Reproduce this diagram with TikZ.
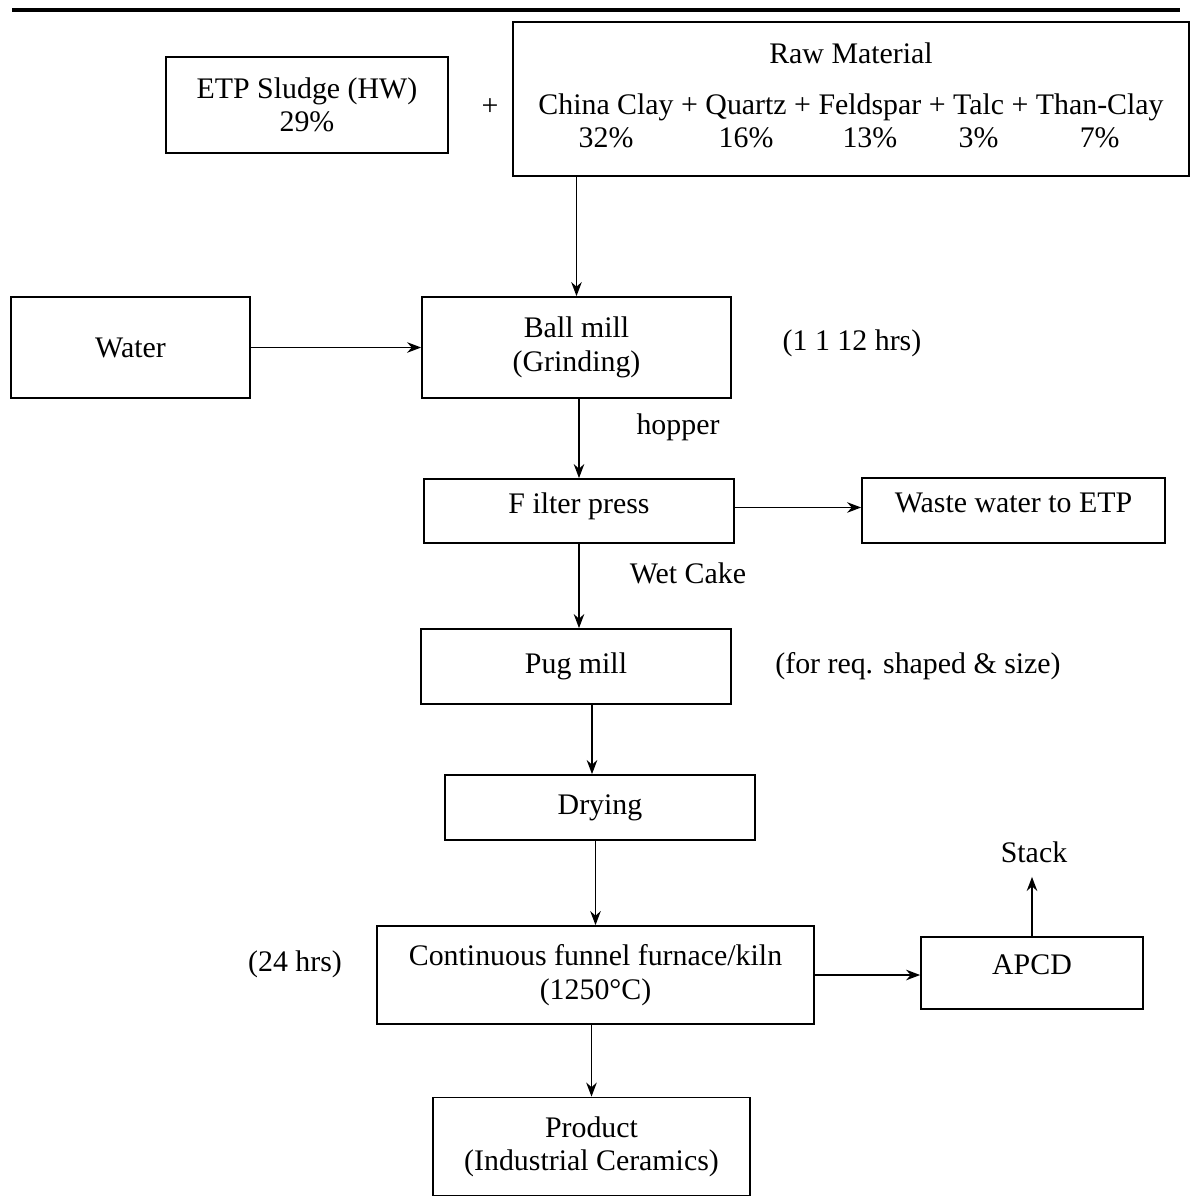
\documentclass[tikz,border=0pt]{standalone}
\usepackage{fontspec}
\setmainfont{Liberation Serif}
\usetikzlibrary{arrows.meta,positioning,calc}

\begin{document}
\begin{tikzpicture}[x=0.02cm, y=-0.02cm, >={Stealth[length=8pt,width=6pt]},
  font=\fontsize{17}{19}\selectfont,
  blk/.style={draw,line width=1pt,inner sep=0pt,align=center},
  flow/.style={->,line width=0.9pt},
  note/.style={inner sep=0pt}]
\useasboundingbox (0,0) rectangle (1191,1196);
% --- top rule ---
\draw[line width=2pt] (12,10) -- (1180,10);
% --- inputs ---
\node[blk,minimum width=5.64cm,minimum height=1.92cm] (sludge) at (307,105)
  {ETP Sludge (HW)\\29\%};
\node[note] (plus) at (490,107) {+};
\node[blk,minimum width=13.52cm,minimum height=3.08cm] (raw) at (851,99)
  {\begin{tabular}{@{}c@{\ }c@{\ }c@{\ }c@{\ }c@{\ }c@{\ }c@{\ }c@{\ }c@{}}
   \multicolumn{9}{c}{Raw Material}\\[10pt]
   China Clay & + & Quartz & + & Feldspar & + & Talc & + & Than-Clay\\
   32\% & & 16\% & & 13\% & & 3\% & & 7\%
   \end{tabular}};
\node[blk,minimum width=4.78cm,minimum height=2.02cm] (water) at (130.5,347.5) {Water};
% --- process chain ---
\node[blk,minimum width=6.18cm,minimum height=2.02cm] (ball) at (576.5,347.5)
  {Ball mill\\(Grinding)};
\node[blk,minimum width=6.2cm,minimum height=1.28cm,text depth=9pt] (filter) at (579,511)
  {F ilter press};
\node[blk,minimum width=6.06cm,minimum height=1.3cm,text depth=9pt] (waste) at (1013.5,510.5)
  {Waste water to ETP};
\node[blk,minimum width=6.2cm,minimum height=1.5cm] (pug) at (576,666.5) {Pug mill};
\node[blk,minimum width=6.2cm,minimum height=1.3cm] (drying) at (600,807.5) {Drying};
\node[blk,minimum width=8.74cm,minimum height=1.96cm] (furnace) at (595.5,975)
  {Continuous funnel furnace/kiln\\(1250°C)};
\node[blk,minimum width=4.44cm,minimum height=1.44cm,text depth=10pt] (apcd) at (1032,973)
  {APCD};
\node[note] (stack) at (1034,852) {Stack};
\node[blk,minimum width=6.34cm,minimum height=1.96cm] (product) at (591.5,1146.5)
  {Product\\(Industrial Ceramics)};
% --- side notes ---
\node[note] (grindtime) at (852,343) {(1 1 12 hrs)};
\node[note] (hopper) at (678,427) {hopper};
\node[note] (cake) at (688,573) {Wet Cake};
\node[note] (shape) at (918,666) {(for req. shaped \& size)};
\node[note] (firetime) at (295,964) {(24 hrs)};
% --- connectors ---
\draw[flow] (ball.north |- raw.south) -- (ball.north);
\draw[flow] (water) -- (ball);
\draw[flow] (filter.north |- ball.south) -- (filter.north);
\draw[flow] ([yshift=2pt]filter.east) -- ([yshift=2pt]filter.east -| waste.west);
\draw[flow] (filter.south) -- (filter.south |- pug.north);
\draw[flow] ([xshift=0.32cm]pug.south) -- ([xshift=0.32cm]pug.south |- drying.north);
\draw[flow] (furnace.north |- drying.south) -- (furnace.north);
\draw[flow] (furnace.east) -- (furnace.east -| apcd.west);
\draw[flow,shorten >=8pt] (apcd.north) -- (apcd.north |- stack.south);
\draw[flow] (product.north |- furnace.south) -- (product.north);
\end{tikzpicture}
\end{document}
